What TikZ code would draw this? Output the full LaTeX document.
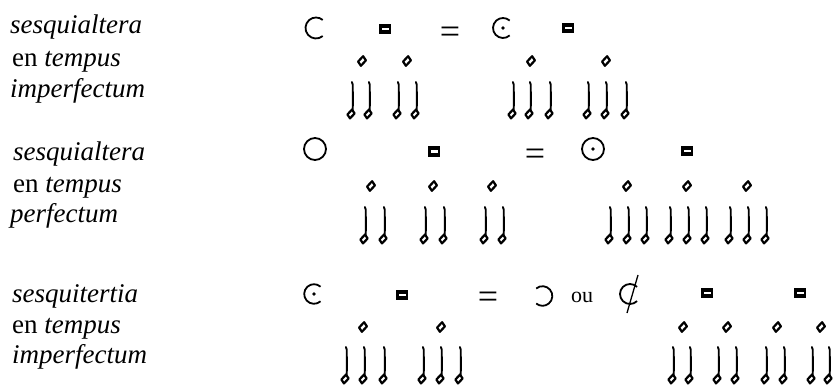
\documentclass[tikz,border=0pt]{standalone}
\usepackage{fontspec}
\setmainfont{Liberation Serif}
\begin{document}
\begin{tikzpicture}[x=1pt,y=-1pt,
  lbl/.style={anchor=base west, inner sep=0pt, font=\fontsize{27}{32}\selectfont},
  eqsign/.style={anchor=base, inner sep=0pt, font=\fontsize{36}{36}\selectfont},
  ousign/.style={anchor=base, inner sep=0pt, font=\fontsize{22}{22}\selectfont},
  sym/.style={line width=1.8pt},
  headline/.style={line width=2.2pt, line join=round},
  stemline/.style={line width=1.9pt, line cap=round},
  pics/semibrevis/.style={code={
    \draw[headline] (1.1,-4.8) -- (3.9,-0.6) -- (-1.1,4.8) -- (-3.9,0.6) -- cycle;}},
  pics/minima/.style={code={
    \draw[headline] (1.0,-4.4) -- (3.6,-0.5) -- (-1.0,4.4) -- (-3.6,0.5) -- cycle;
    \draw[stemline] (1.6,-4.4) .. controls (2.3,-14) and (1.6,-24) .. (1.7,-29.5)
       .. controls (1.7,-31) .. (0.9,-32);}},
  pics/brevis/.style={code={
    \fill (-5.8,-5.3) rectangle (5.8,5.3);
    \fill[white] (-3.5,-1.4) rectangle (3.5,1.4);}}
]
\useasboundingbox (0,0) rectangle (837,385);

% ---- left labels ----
\node[lbl] (t1a) at (10,34)  {\textit{sesquialtera}};
\node[lbl] (t1b) at (12,67)  {en \textit{tempus}};
\node[lbl] (t1c) at (10,98)  {\textit{imperfectum}};
\node[lbl] (t2a) at (13,160) {\textit{sesquialtera}};
\node[lbl] (t2b) at (13,192) {en \textit{tempus}};
\node[lbl] (t2c) at (10,222) {\textit{perfectum}};
\node[lbl] (t3a) at (12,302) {\textit{sesquitertia}};
\node[lbl] (t3b) at (12,333) {en \textit{tempus}};
\node[lbl] (t3c) at (12,363) {\textit{imperfectum}};

% ---- row 1 ----
\draw[sym] (316,28) ++(50:10.5) arc[start angle=50, end angle=310, radius=10.5];
\pic (b1a) at (385,29) {brevis};
\node[eqsign] (eq1) at (450,44) {=};
\draw[sym] (503,28) ++(48:10) arc[start angle=48, end angle=312, radius=10];
\fill (503,28) circle[radius=1.9];
\pic (b1b) at (568,28) {brevis};
\foreach \x in {362,407,531,606} \pic at (\x,61) {semibrevis};
\foreach \x in {351,368,397,415,512,529,549,587,605,625} \pic at (\x,114) {minima};

% ---- row 2 ----
\draw[sym] (315,149) circle[radius=11];
\pic (b2a) at (434,151.5) {brevis};
\node[eqsign] (eq2) at (535,165) {=};
\draw[sym] (593,149) circle[radius=11];
\fill (593,149) circle[radius=1.9];
\pic (b2b) at (687,151) {brevis};
\foreach \x in {371,433,492,627,687,747} \pic at (\x,186) {semibrevis};
\foreach \x in {364,383,424,443,484,502,609,627,645,669,687,705,729,747,765} \pic at (\x,239) {minima};

% ---- row 3 ----
\draw[sym] (314,294) ++(48:9.8) arc[start angle=48, end angle=312, radius=9.8];
\fill (314,294) circle[radius=1.9];
\pic (b3a) at (402,295) {brevis};
\node[eqsign] (eq3) at (488,308) {=};
\draw[sym] (542.5,296) ++(-130:9.8) arc[start angle=-130, end angle=130, radius=9.8];
\node[ousign] (ou) at (582,302) {ou};
\draw[sym] (630,294) ++(45:10) arc[start angle=45, end angle=315, radius=10];
\coordinate (sl1) at (638,275);
\coordinate (sl2) at (627,313);
\draw[line width=1.3pt] (sl1) -- (sl2);
\pic (b3b) at (707,293) {brevis};
\pic (b3c) at (800,293) {brevis};
\foreach \x in {363,441,683,727,777,821} \pic at (\x,327) {semibrevis};
\foreach \x in {345,363,383,422,440,459,672,689,717,735,765,783,811,828} \pic at (\x,379) {minima};
\end{tikzpicture}
\end{document}
